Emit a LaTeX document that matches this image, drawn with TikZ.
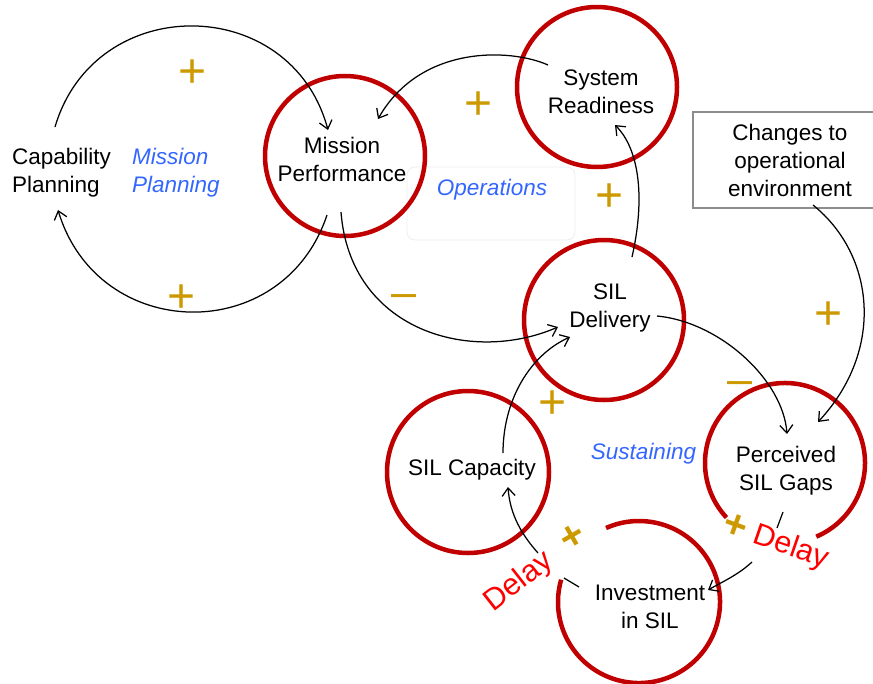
\documentclass[tikz,border=0pt]{standalone}
\usepackage{fontspec}
\setmainfont{Liberation Sans}
\usetikzlibrary{arrows.meta}
\definecolor{ringred}{RGB}{192,0,0}
\definecolor{polgold}{RGB}{204,153,0}
\definecolor{loopblue}{RGB}{51,102,255}
\definecolor{delayred}{RGB}{255,0,0}
\begin{document}
\begin{tikzpicture}[x=1pt,y=-1pt,
  lab/.style={font=\fontsize{22.5}{28}\selectfont, align=center, inner sep=0pt},
  looplab/.style={font=\fontsize{22.5}{28}\selectfont\itshape, text=loopblue, align=left, inner sep=0pt},
  ring/.style={draw=ringred, line width=4.5pt},
  link/.style={line width=1.25pt, -{Straight Barb[length=8pt,width=13pt]}},
  plainlink/.style={line width=1.25pt},
  pluslab/.style={font=\fontsize{48}{48}\selectfont, text=polgold, inner sep=0pt, anchor=base},
  minuslab/.style={font=\fontsize{45}{45}\selectfont, text=polgold, inner sep=0pt, anchor=base},
  smallplus/.style={font=\fontsize{40}{40}\selectfont\bfseries, text=polgold, inner sep=0pt},
  delaylab/.style={font=\fontsize{30.5}{32}\selectfont, text=delayred, inner sep=0pt},
]
\useasboundingbox (0,0) rectangle (873,683);
\clip (0,0) rectangle (873,683);

% faint frame behind Operations
\draw[black!7, line width=0.8pt, rounded corners=8pt] (407,167) rectangle (575,240);

% circle centres
\coordinate (mpc) at (345,156);
\coordinate (src) at (597,87);
\coordinate (sdc) at (604,320);
\coordinate (scc) at (468,472);
\coordinate (pgc) at (785,463);
\coordinate (invc) at (639,602);

% rings
\draw[ring] (mpc) circle[radius=80];
\draw[ring] (src) circle[radius=80];
\draw[ring] (sdc) circle[radius=80];
\draw[ring] (scc) circle[radius=81];
\draw[ring] (pgc) ++(-293:80) arc[start angle=-293, delta angle=-290, radius=80];
\draw[ring] (invc) ++(-164:81) arc[start angle=-164, delta angle=-310, radius=81];

% variable names
\node[lab, align=left, anchor=west] (cap) at (12,173) {Capability\\Planning};
\node[lab] (mp) at (342,159) {Mission\\Performance};
\node[lab] (sr) at (601,92) {System\\Readiness};
\node[lab] (sd) at (610,308) {SIL\\Delivery};
\node[lab] (sc) at (472,470) {SIL Capacity};
\node[lab] (pg) at (786,471) {Perceived\\SIL Gaps};
\node[lab] (inv) at (650,607) {Investment\\in SIL};
\node[lab, draw=black!45, line width=1.2pt, minimum width=194pt, minimum height=96pt] (chg) at (790,160) {Changes to\\operational\\environment};

% loop names
\node[looplab, anchor=west] (lmp) at (132,173) {Mission\\Planning};
\node[looplab] (lop) at (492,190) {Operations};
\node[looplab] (lsu) at (643.5,454) {Sustaining};

% connector end points
\coordinate (cap-out) at (55,127);
\coordinate (cap-in) at (58,210);
\coordinate (mp-in1) at (328,130);
\coordinate (mp-out1) at (327,215);
\coordinate (mp-out2) at (341,212);
\coordinate (mp-in2) at (378,119);
\coordinate (sr-out) at (548,65);
\coordinate (sr-in) at (615,125);
\coordinate (sd-out1) at (632,257);
\coordinate (sd-in1) at (558,327);
\coordinate (sd-in2) at (570,337);
\coordinate (sd-out2) at (657,316);
\coordinate (sc-out) at (503,453);
\coordinate (sc-in) at (508,487);
\coordinate (chg-out) at (813,205);
\coordinate (pg-in1) at (787,434);
\coordinate (pg-in2) at (818,422);
\coordinate (pg-out) at (783,512);
\coordinate (pg-cut) at (777,528);
\coordinate (pg-resume) at (752,562);
\coordinate (inv-in) at (708,590);
\coordinate (inv-out) at (579,587);
\coordinate (inv-cut) at (564,578);
\coordinate (inv-resume) at (538,553);

% connectors
\draw[link] (cap-out) .. controls (95,-9) and (291,-7) .. (mp-in1);
\draw[link] (mp-out1) .. controls (283,347) and (98,343) .. (cap-in);
\draw[link] (mp-out2) .. controls (350,330) and (470,365) .. (sd-in1);
\draw[link] (sd-out1) .. controls (645,200) and (640,150) .. (sr-in);
\draw[link] (sr-out) .. controls (510,48) and (420,45) .. (mp-in2);
\draw[link] (sc-out) .. controls (503,400) and (530,355) .. (sd-in2);
\draw[link] (sd-out2) .. controls (720,322) and (783,380) .. (pg-in1);
\draw[link] (chg-out) .. controls (875,255) and (885,350) .. (pg-in2);
\draw[plainlink] (pg-out) -- (pg-cut);
\draw[link] (pg-resume) .. controls (738,575) and (722,582) .. (inv-in);
\draw[plainlink] (inv-out) -- (inv-cut);
\draw[link] (inv-resume) .. controls (522,535) and (510,515) .. (sc-in);

% polarities
\node[pluslab] (p1) at (193,87) {+};
\node[pluslab] (p2) at (182,312) {+};
\node[pluslab] (p3) at (479,119) {+};
\node[pluslab] (p4) at (610,211) {+};
\node[pluslab] (p5) at (829,329) {+};
\node[pluslab] (p6) at (553,418) {+};
\node[minuslab] (m1) at (404,307.5) {–};
\node[minuslab] (m2) at (740,394.5) {–};
\node[smallplus, rotate=30] (p7) at (573,537) {+};
\node[smallplus, rotate=-20] (p8) at (735,526) {+};

% delays
\node[delaylab, rotate=38] (d1) at (519,582) {Delay};
\node[delaylab, rotate=-19] (d2) at (791,548) {Delay};
\end{tikzpicture}
\end{document}
